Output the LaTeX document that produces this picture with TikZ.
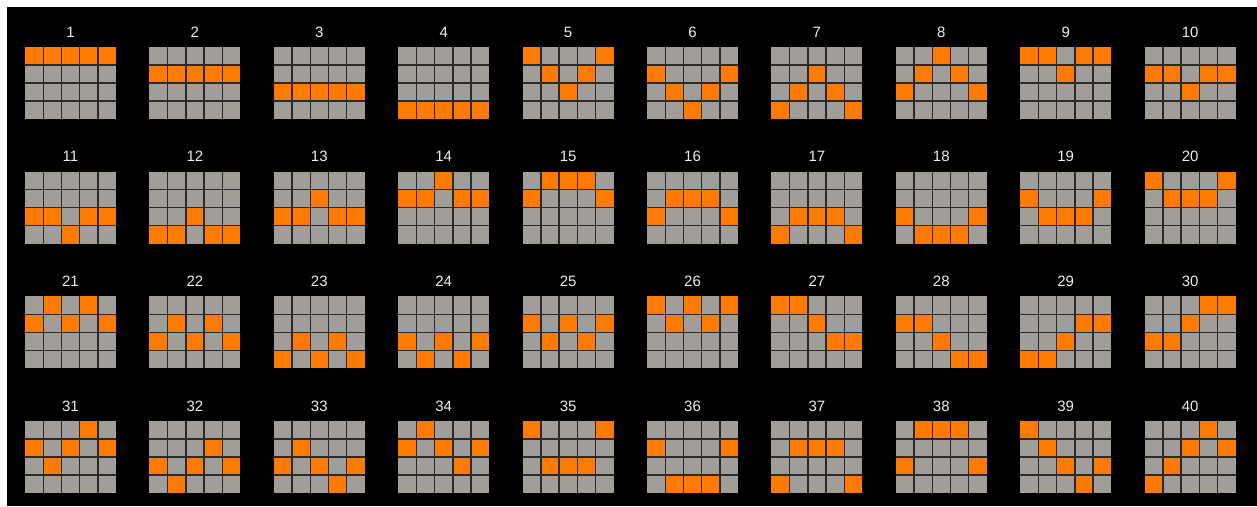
\documentclass[tikz,border=0pt]{standalone}
\usepackage{fontspec}
\setsansfont{Liberation Sans}
\usepackage{tikz}
\definecolor{cellgray}{HTML}{A19D99}
\definecolor{payorange}{HTML}{FF7A00}
\definecolor{gridline}{HTML}{2A2A2A}
\definecolor{numwhite}{HTML}{EDEDED}
\tikzstyle{cell}=[fill=cellgray]
\tikzstyle{hit}=[fill=payorange]
\tikzstyle{sep}=[draw=gridline, line width=1.4pt]
\tikzstyle{numsty}=[text=numwhite, font=\sffamily\fontsize{15}{15}\selectfont]

\begin{document}
\begin{tikzpicture}[x=1pt,y=-1pt]
			\fill[white] (0,0) rectangle (1257,506);
			\fill[black] (7,7) rectangle (1257,506);
			
			% one row index (1 = top) for each of the 5 reels
			\foreach \p [count=\n from 0] in {
				{1,1,1,1,1},{2,2,2,2,2},{3,3,3,3,3},{4,4,4,4,4},{1,2,3,2,1},
				{2,3,4,3,2},{4,3,2,3,4},{3,2,1,2,3},{1,1,2,1,1},{2,2,3,2,2},
				{3,3,4,3,3},{4,4,3,4,4},{3,3,2,3,3},{2,2,1,2,2},{2,1,1,1,2},
				{3,2,2,2,3},{4,3,3,3,4},{3,4,4,4,3},{2,3,3,3,2},{1,2,2,2,1},
				{2,1,2,1,2},{3,2,3,2,3},{4,3,4,3,4},{3,4,3,4,3},{2,3,2,3,2},
				{1,2,1,2,1},{1,1,2,3,3},{2,2,3,4,4},{4,4,3,2,2},{3,3,2,1,1},
				{2,3,2,1,2},{3,4,3,2,3},{3,2,3,4,3},{2,1,2,3,2},{1,3,3,3,1},
				{2,4,4,4,2},{4,2,2,2,4},{3,1,1,1,3},{1,2,3,4,3},{4,3,2,1,2}}{
				\pgfmathsetmacro{\gx}{25+124.4*mod(\n,10)}
				\pgfmathsetmacro{\gy}{47+124.67*floor(\n/10)}
				\pgfmathtruncatemacro{\num}{\n+1}
				\fill[cell] (\gx,\gy) rectangle ++(91,72);
				\foreach \r [count=\k from 0] in \p
					\fill[hit] (\gx+\k*18.2,\gy+\r*18-18) rectangle ++(18.2,18);
				\foreach \k in {1,...,4}
					\draw[sep] (\gx+\k*18.2,\gy) -- ++(0,72);
				\foreach \j in {1,2,3}
					\draw[sep] (\gx,\gy+\j*18) -- ++(91,0);
				\node[numsty] (num\num) at (\gx+45.5,\gy-15) {\num};
			}
		\end{tikzpicture}
\end{document}
